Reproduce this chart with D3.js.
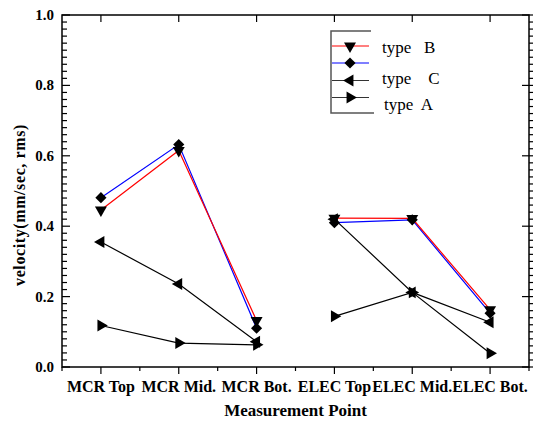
<!DOCTYPE html>
<html>
<head>
<meta charset="utf-8">
<script src="https://cdn.jsdelivr.net/npm/d3@7"></script>
<style>
  body { margin: 0; background: #fff; }
  svg { display: block; }
  text { font-family: 'Liberation Serif', 'Times New Roman', 'DejaVu Serif', serif; }
</style>
</head>
<body>
<div id="wrapper"></div>
<script>
// data
const categories = ['MCR Top', 'MCR Mid.', 'MCR Bot.', 'ELEC Top', 'ELEC Mid.', 'ELEC Bot.']
const typeB = [0.446, 0.615, 0.132, 0.423, 0.422, 0.163]
const typeDiamond = [0.481, 0.632, 0.11, 0.41, 0.418, 0.153]
const typeC = [0.355, 0.236, 0.072, 0.42, 0.212, 0.127]
const typeA = [0.118, 0.068, 0.063, 0.144, 0.212, 0.039]
const yTicks = [0, 0.2, 0.4, 0.6, 0.8, 1.0]
const legendLabels = ['type   B', '', 'type    C', 'type  A']

const series = [
  { name: 'A', values: typeA, color: '#000', symbol: 'right' },
  { name: 'C', values: typeC, color: '#000', symbol: 'left' },
  { name: 'D', values: typeDiamond, color: '#0000ff', symbol: 'diamond' },
  { name: 'B', values: typeB, color: '#ff0000', symbol: 'down' },
]

const dimensions = {
  width: 533,
  height: 423,
  margin: { top: 15, right: 4, bottom: 56, left: 62 },
}
dimensions.boundedWidth = dimensions.width - dimensions.margin.left - dimensions.margin.right
dimensions.boundedHeight = dimensions.height - dimensions.margin.top - dimensions.margin.bottom

const svg = d3.select('#wrapper').append('svg')
  .attr('width', dimensions.width)
  .attr('height', dimensions.height)

const bounds = svg.append('g')
  .attr('transform', `translate(${dimensions.margin.left},${dimensions.margin.top})`)

// scales
const xScale = d3.scaleLinear().domain([0.5, 6.5]).range([0, dimensions.boundedWidth])
const yScale = d3.scaleLinear().domain([0, 1]).range([dimensions.boundedHeight, 0])

const pos = (i) => xScale(i + 1)

// markers
function markerPath(type) {
  if (type === 'diamond') return d3.symbol(d3.symbolSquare, 62)()
  return d3.symbol(d3.symbolTriangle, 62)()
}
function markerRotate(type) {
  return { down: 180, left: -90, right: 90, diamond: 45 }[type]
}

// frame
bounds.append('rect')
  .attr('width', dimensions.boundedWidth)
  .attr('height', dimensions.boundedHeight)
  .attr('fill', 'none')
  .attr('stroke', '#000')
  .attr('stroke-width', 1.5)

const minorY = d3.range(0, 1.0001, 0.02)
const minorX = d3.range(0.5, 6.51, 0.5)
const isMajorY = (d) => Math.abs(d * 5 - Math.round(d * 5)) < 1e-6

// left axis: ticks point inward
const leftAxis = bounds.append('g')
leftAxis.selectAll('line').data(minorY).join('line')
  .attr('x1', 0).attr('x2', (d) => (isMajorY(d) ? 8 : 5))
  .attr('y1', (d) => yScale(d)).attr('y2', (d) => yScale(d))
  .attr('stroke', '#000').attr('stroke-width', 1.2)
leftAxis.selectAll('text').data(yTicks).join('text')
  .attr('x', -8)
  .attr('y', (d) => yScale(d) + 5)
  .attr('text-anchor', 'end')
  .attr('font-weight', 'bold')
  .attr('font-size', 15)
  .text(d3.format('.1f'))

// right axis: major inward, minor outward
const rightAxis = bounds.append('g').attr('transform', `translate(${dimensions.boundedWidth},0)`)
rightAxis.selectAll('line').data(minorY).join('line')
  .attr('x1', (d) => (isMajorY(d) ? -7 : 0))
  .attr('x2', 4)
  .attr('y1', (d) => yScale(d)).attr('y2', (d) => yScale(d))
  .attr('stroke', '#000').attr('stroke-width', 1.2)

// top axis: major ticks inward
bounds.append('g').selectAll('line').data(d3.range(1, 7)).join('line')
  .attr('x1', (d) => xScale(d)).attr('x2', (d) => xScale(d))
  .attr('y1', 0).attr('y2', 7)
  .attr('stroke', '#000').attr('stroke-width', 1.2)

// bottom axis: ticks point outward
const bottomAxis = bounds.append('g').attr('transform', `translate(0,${dimensions.boundedHeight})`)
bottomAxis.selectAll('line').data(minorX).join('line')
  .attr('x1', (d) => xScale(d)).attr('x2', (d) => xScale(d))
  .attr('y1', 0).attr('y2', (d) => (Number.isInteger(d) ? 7 : 4))
  .attr('stroke', '#000').attr('stroke-width', 1.2)
bottomAxis.selectAll('text').data(categories).join('text')
  .attr('x', (d, i) => pos(i))
  .attr('y', 25)
  .attr('text-anchor', 'middle')
  .attr('font-weight', 'bold')
  .attr('font-size', 16)
  .text((d) => d)

// axis titles
svg.append('text')
  .attr('x', dimensions.margin.left + dimensions.boundedWidth / 2)
  .attr('y', 416)
  .attr('text-anchor', 'middle')
  .attr('font-weight', 'bold')
  .attr('font-size', 17)
  .text('Measurement Point')

svg.append('text')
  .attr('transform', 'translate(25,205) rotate(-90)')
  .attr('text-anchor', 'middle')
  .attr('font-weight', 'bold')
  .attr('font-size', 16)
  .attr('letter-spacing', 0.6)
  .text('velocity(mm/sec, rms)')

// lines, broken between the MCR and ELEC groups
const lineGen = d3.line().x((d) => pos(d.i)).y((d) => yScale(d.v))
series.forEach((s) => {
  const pts = s.values.map((v, i) => ({ v, i }))
  ;[pts.slice(0, 3), pts.slice(3)].forEach((seg) => {
    bounds.append('path')
      .attr('d', lineGen(seg))
      .attr('fill', 'none')
      .attr('stroke', s.color)
      .attr('stroke-width', 1.2)
  })
})
series.forEach((s) => {
  bounds.append('g').selectAll('path').data(s.values).join('path')
    .attr('d', markerPath(s.symbol))
    .attr('transform', (d, i) => `translate(${pos(i)},${yScale(d)}) rotate(${markerRotate(s.symbol)})`)
    .attr('fill', '#000')
})

// legend
const legendRows = [series[3], series[2], series[1], series[0]]
const legend = svg.append('g')
legend.append('path')
  .attr('d', 'M371,31 H331 V113 H374')
  .attr('fill', 'none')
  .attr('stroke', '#555')
  .attr('stroke-width', 1.5)
const rowY = [46, 63, 80.5, 97.5]
const labelY = [53, 0, 84, 110]
legendRows.forEach((s, k) => {
  legend.append('line')
    .attr('x1', 332).attr('x2', 369)
    .attr('y1', rowY[k]).attr('y2', rowY[k])
    .attr('stroke', s.color === '#000' ? '#333' : s.color)
    .attr('stroke-width', 1.2)
  legend.append('path')
    .attr('d', markerPath(s.symbol))
    .attr('transform', `translate(350,${rowY[k]}) rotate(${markerRotate(s.symbol)})`)
    .attr('fill', '#000')
  if (legendLabels[k]) {
    legend.append('text')
      .attr('x', k === 3 ? 384 : 382)
      .attr('y', labelY[k])
      .attr('font-size', 17)
      .style('white-space', 'pre')
      .text(legendLabels[k])
  }
})
</script>
</body>
</html>
